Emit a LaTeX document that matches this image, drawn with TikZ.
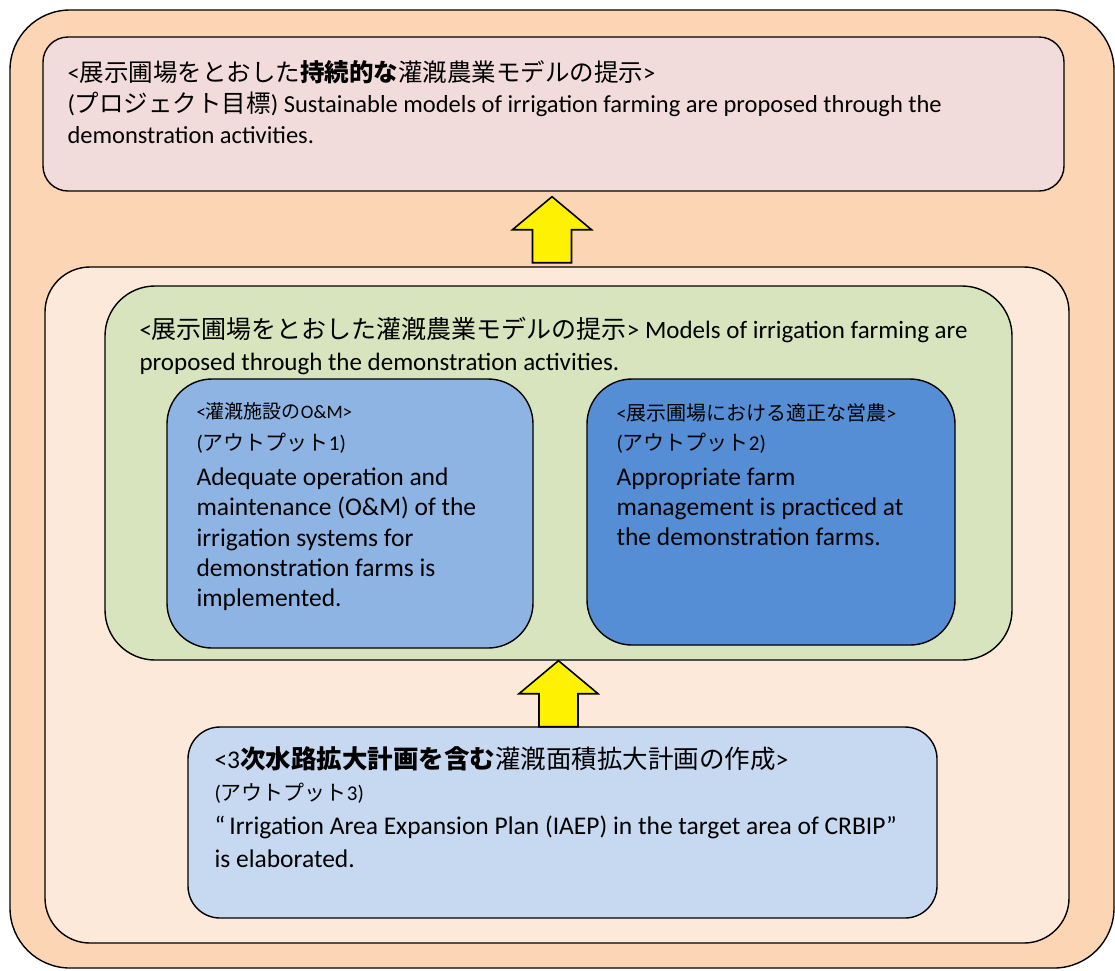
\documentclass[tikz,border=0pt]{standalone}
\usepackage{fontspec}
\setmainfont{Carlito}
\newfontfamily\jp{Noto Sans CJK JP}
\newcommand\J[1]{{\jp #1}}
\newcommand\JB[1]{{\jp\bfseries #1}}

\definecolor{outerfill}{HTML}{FCD5B5}
\definecolor{goalfill}{HTML}{F2DCDB}
\definecolor{midfill}{HTML}{FDE9D9}
\definecolor{greenfill}{HTML}{D7E4BD}
\definecolor{outAfill}{HTML}{8EB4E3}
\definecolor{outBfill}{HTML}{558ED5}
\definecolor{outCfill}{HTML}{C6D9F1}

\begin{document}
\begin{tikzpicture}[x=1pt,y=-1pt,
  box/.style={draw=black, line width=1.4pt, rounded corners=#1, inner sep=0pt, rectangle},
  box/.default=45pt,
  txt/.style={inner sep=0pt, align=left, text=black},
  arrowshape/.style={draw=black, line width=1.6pt, fill=yellow, line join=miter},
  uparrow/.pic={\draw[arrowshape] (0,0) -- (39.5,33) -- (19.5,33) -- (19.5,66)
      -- (-19.5,66) -- (-19.5,33) -- (-39.5,33) -- cycle;}
]
\useasboundingbox (0,0) rectangle (1115,970);

% frames, outermost first
\node[box=60pt, fill=outerfill, minimum width=1104pt, minimum height=958pt] (outer) at (562,489) {};
\node[box=25pt, fill=goalfill, minimum width=1021pt, minimum height=154pt] (goal) at (553.5,114) {};
\node[box=45pt, fill=midfill, minimum width=1024pt, minimum height=676pt] (mid) at (557,605) {};
\node[box=50pt, fill=greenfill, minimum width=907pt, minimum height=374pt] (green) at (558.5,473) {};
\node[box=45pt, fill=outAfill, minimum width=366pt, minimum height=269pt] (outA) at (350,513.5) {};
\node[box=45pt, fill=outBfill, minimum width=368pt, minimum height=266pt] (outB) at (771,512) {};
\node[box=32pt, fill=outCfill, minimum width=749pt, minimum height=191pt] (outC) at (562.5,822.5) {};

% block arrows between levels
\coordinate (tipA) at ([shift={(-1.5,5)}]goal.south);
\coordinate (tipB) at (green.south);
\pic at (tipA) {uparrow};
\pic at (tipB) {uparrow};

% project goal
\node[txt, anchor=north west, font=\fontsize{24.5}{31}\selectfont] (goaltext)
  at ([shift={(25,24)}]goal.north west)
  {<\J{展示圃場をとおした}\JB{持続的な}\J{灌漑農業モデルの提示}>\\
   (\J{プロジェクト目標}) Sustainable models of irrigation farming are proposed through the\\
   demonstration activities.};

% overall output
\node[txt, anchor=north west, font=\fontsize{25}{32}\selectfont] (greentext)
  at ([shift={(35,31.5)}]green.north west)
  {<\J{展示圃場をとおした灌漑農業モデルの提示}> Models of irrigation farming are\\
   proposed through the demonstration activities.};

% output 1
\node[txt, anchor=base west, font=\fontsize{19}{22}\selectfont] (outAhead)
  at ([shift={(30,40)}]outA.north west) {<\J{灌漑施設の}O\&M>};
\node[txt, anchor=base west, font=\fontsize{21}{24}\selectfont] (outAno)
  at ([shift={(30,72)}]outA.north west) {(\J{アウトプット}1)};
\node[txt, anchor=north west, font=\fontsize{25.5}{30.2}\selectfont] (outAbody)
  at ([shift={(30,89.5)}]outA.north west)
  {Adequate operation and\\ maintenance (O\&M) of the\\ irrigation systems for\\
   demonstration farms is\\ implemented.};

% output 2
\node[txt, anchor=base west, font=\fontsize{20}{22}\selectfont] (outBhead)
  at ([shift={(30,42)}]outB.north west) {<\J{展示圃場における適正な営農}>};
\node[txt, anchor=base west, font=\fontsize{21}{24}\selectfont] (outBno)
  at ([shift={(30,72)}]outB.north west) {(\J{アウトプット}2)};
\node[txt, anchor=north west, font=\fontsize{25.5}{30.2}\selectfont] (outBbody)
  at ([shift={(30,89.5)}]outB.north west)
  {Appropriate farm\\ management is practiced at\\ the demonstration farms.};

% output 3
\node[txt, anchor=base west, font=\fontsize{25.5}{28}\selectfont] (outChead)
  at ([shift={(27,42)}]outC.north west)
  {<3\JB{次水路拡大計画を含む}\J{灌漑面積拡大計画の作成}>};
\node[txt, anchor=base west, font=\fontsize{21}{24}\selectfont] (outCno)
  at ([shift={(27,74)}]outC.north west) {(\J{アウトプット}3)};
\node[txt, anchor=north west, font=\fontsize{25.5}{33}\selectfont] (outCbody)
  at ([shift={(27,89)}]outC.north west)
  {“\,Irrigation Area Expansion Plan (IAEP) in the target area of CRBIP”\\
   is elaborated.};
\end{tikzpicture}
\end{document}
